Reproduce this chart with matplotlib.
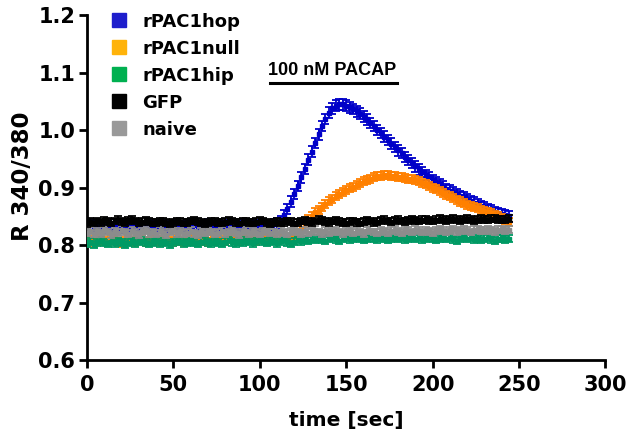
import numpy as np
import matplotlib
matplotlib.use("Agg")
import matplotlib.pyplot as plt

plt.rcParams['font.family'] = ['DejaVu Sans']
plt.rcParams['font.weight'] = 'bold'

# time axis: one frame every 2 s
time = np.arange(0, 246, 2)

# rPAC1hop: baseline (0-110 s) then response (112-244 s)
hop_base = [0.832, 0.835, 0.831, 0.834, 0.833, 0.830, 0.834, 0.836, 0.832, 0.833,
            0.835, 0.831, 0.833, 0.836, 0.834, 0.832, 0.830, 0.833, 0.835, 0.832,
            0.834, 0.831, 0.833, 0.835, 0.832, 0.834, 0.836, 0.833, 0.831, 0.834,
            0.832, 0.835, 0.833, 0.831, 0.834, 0.836, 0.833, 0.832, 0.835, 0.833,
            0.831, 0.834, 0.832, 0.835, 0.833, 0.836, 0.834, 0.832, 0.835, 0.833,
            0.834, 0.836, 0.833, 0.835, 0.836, 0.838]
hop_resp = [0.842, 0.852, 0.863, 0.876, 0.889, 0.903, 0.918, 0.933, 0.949, 0.963,
            0.978, 0.993, 1.007, 1.020, 1.031, 1.038, 1.043, 1.045, 1.045, 1.043,
            1.040, 1.037, 1.033, 1.029, 1.024, 1.019, 1.013, 1.007, 1.001, 0.995,
            0.989, 0.983, 0.977, 0.971, 0.965, 0.960, 0.954, 0.948, 0.943, 0.937,
            0.932, 0.927, 0.922, 0.918, 0.914, 0.910, 0.906, 0.902, 0.898, 0.895,
            0.892, 0.889, 0.886, 0.883, 0.880, 0.877, 0.874, 0.871, 0.868, 0.866,
            0.863, 0.861, 0.858, 0.856, 0.854, 0.852, 0.850]

# rPAC1null: baseline (0-118 s) then response (120-244 s)
null_base = [0.806, 0.809, 0.804, 0.808, 0.811, 0.807, 0.805, 0.809, 0.812, 0.806,
             0.804, 0.808, 0.810, 0.807, 0.805, 0.809, 0.811, 0.806, 0.808, 0.810,
             0.807, 0.805, 0.809, 0.811, 0.808, 0.806, 0.810, 0.808, 0.805, 0.809,
             0.811, 0.807, 0.809, 0.812, 0.808, 0.806, 0.810, 0.808, 0.811, 0.809,
             0.807, 0.810, 0.812, 0.809, 0.807, 0.811, 0.809, 0.812, 0.810, 0.808,
             0.811, 0.813, 0.810, 0.812, 0.814, 0.811, 0.813, 0.812, 0.814, 0.813]
null_resp = [0.815, 0.822, 0.830, 0.838, 0.845, 0.851, 0.857, 0.862, 0.867, 0.872,
             0.877, 0.881, 0.885, 0.889, 0.892, 0.896, 0.899, 0.902, 0.905, 0.908,
             0.911, 0.913, 0.916, 0.918, 0.920, 0.921, 0.922, 0.922, 0.921, 0.920,
             0.919, 0.918, 0.917, 0.916, 0.915, 0.913, 0.911, 0.909, 0.906, 0.903,
             0.900, 0.897, 0.894, 0.891, 0.888, 0.885, 0.882, 0.879, 0.876, 0.873,
             0.870, 0.868, 0.866, 0.864, 0.862, 0.860, 0.858, 0.856, 0.853, 0.850,
             0.847, 0.844, 0.841]

hip = [0.803, 0.806, 0.801, 0.805, 0.808, 0.804, 0.802, 0.806, 0.803, 0.807,
       0.805, 0.801, 0.804, 0.807, 0.803, 0.806, 0.808, 0.804, 0.802, 0.805,
       0.807, 0.803, 0.806, 0.804, 0.801, 0.805, 0.808, 0.806, 0.803, 0.805,
       0.807, 0.804, 0.802, 0.806, 0.808, 0.805, 0.803, 0.807, 0.805, 0.802,
       0.806, 0.809, 0.805, 0.803, 0.807, 0.805, 0.808, 0.806, 0.803, 0.807,
       0.809, 0.806, 0.804, 0.808, 0.806, 0.803, 0.807, 0.809, 0.805, 0.802,
       0.806, 0.809, 0.807, 0.810, 0.808, 0.811, 0.809, 0.812, 0.810, 0.808,
       0.811, 0.813, 0.810, 0.808, 0.811, 0.813, 0.810, 0.812, 0.814, 0.811,
       0.809, 0.812, 0.814, 0.811, 0.810, 0.813, 0.811, 0.809, 0.812, 0.814,
       0.811, 0.813, 0.810, 0.812, 0.814, 0.811, 0.813, 0.810, 0.812, 0.814,
       0.811, 0.809, 0.812, 0.814, 0.811, 0.813, 0.810, 0.808, 0.812, 0.814,
       0.811, 0.813, 0.810, 0.812, 0.809, 0.811, 0.813, 0.810, 0.808, 0.811,
       0.812, 0.810, 0.811]

gfp = [0.838, 0.841, 0.839, 0.842, 0.840, 0.843, 0.841, 0.839, 0.842, 0.844,
       0.841, 0.840, 0.843, 0.845, 0.842, 0.840, 0.841, 0.843, 0.841, 0.839,
       0.840, 0.842, 0.841, 0.839, 0.838, 0.840, 0.842, 0.841, 0.839, 0.840,
       0.842, 0.843, 0.841, 0.840, 0.838, 0.840, 0.842, 0.841, 0.840, 0.839,
       0.841, 0.843, 0.842, 0.840, 0.839, 0.841, 0.842, 0.840, 0.839, 0.841,
       0.843, 0.842, 0.840, 0.838, 0.840, 0.841, 0.839, 0.840, 0.842, 0.841,
       0.839, 0.840, 0.842, 0.843, 0.841, 0.840, 0.842, 0.844, 0.843, 0.841,
       0.840, 0.842, 0.843, 0.841, 0.840, 0.839, 0.841, 0.842, 0.840, 0.839,
       0.841, 0.843, 0.842, 0.840, 0.841, 0.843, 0.844, 0.842, 0.841, 0.843,
       0.844, 0.842, 0.841, 0.843, 0.845, 0.843, 0.842, 0.844, 0.845, 0.843,
       0.842, 0.844, 0.846, 0.844, 0.843, 0.845, 0.846, 0.844, 0.843, 0.845,
       0.846, 0.845, 0.843, 0.844, 0.846, 0.845, 0.844, 0.846, 0.847, 0.845,
       0.844, 0.845, 0.846]

naive = [0.822, 0.825, 0.820, 0.824, 0.821, 0.826, 0.823, 0.819, 0.824, 0.822,
         0.827, 0.823, 0.820, 0.825, 0.822, 0.819, 0.824, 0.826, 0.821, 0.823,
         0.820, 0.825, 0.822, 0.818, 0.823, 0.826, 0.821, 0.824, 0.820, 0.822,
         0.825, 0.821, 0.819, 0.824, 0.822, 0.826, 0.823, 0.820, 0.822, 0.825,
         0.821, 0.823, 0.826, 0.822, 0.819, 0.823, 0.825, 0.821, 0.824, 0.822,
         0.820, 0.824, 0.826, 0.822, 0.823, 0.821, 0.825, 0.822, 0.820, 0.824,
         0.826, 0.823, 0.821, 0.825, 0.822, 0.824, 0.827, 0.823, 0.821, 0.825,
         0.822, 0.824, 0.826, 0.823, 0.821, 0.824, 0.826, 0.822, 0.825, 0.823,
         0.821, 0.825, 0.827, 0.823, 0.822, 0.826, 0.824, 0.822, 0.825, 0.827,
         0.824, 0.822, 0.826, 0.825, 0.823, 0.827, 0.825, 0.823, 0.826, 0.824,
         0.822, 0.826, 0.828, 0.825, 0.823, 0.826, 0.828, 0.824, 0.826, 0.827,
         0.825, 0.823, 0.827, 0.828, 0.825, 0.826, 0.828, 0.826, 0.824, 0.827,
         0.828, 0.826, 0.827]

hop = hop_base + hop_resp
null = null_base + null_resp

# approximate SEM per group
sem = {'rPAC1hop': 0.009, 'rPAC1null': 0.007, 'rPAC1hip': 0.006,
       'GFP': 0.006, 'naive': 0.006}

labels = ['rPAC1hop', 'rPAC1null', 'rPAC1hip', 'GFP', 'naive']
series = [hop, null, hip, gfp, naive]
data_colors = ['#0000C8', '#FF8000', '#009A64', '#000000', '#8C8C8C']
legend_colors = ['#1E1ECC', '#FFB30A', '#00B050', '#000000', '#999999']
zorders = [2, 3, 4, 6, 5]  # GFP drawn above naive

fig = plt.figure(figsize=(6.29, 4.41), dpi=100)
ax = fig.add_axes([0.1383, 0.1837, 0.8243, 0.7812])

for lab, y, c, z in zip(labels, series, data_colors, zorders):
    ax.errorbar(time, y, yerr=sem[lab], fmt='s', color=c, ms=3,
                elinewidth=1.3, capsize=2.8, capthick=1.3, zorder=z)

ax.set_xlim(0, 300)
ax.set_ylim(0.6, 1.2)
ax.set_xticks(np.arange(0, 301, 50))
ax.set_yticks(np.arange(0.6, 1.21, 0.1))
ax.set_yticklabels(['%.1f' % v for v in np.arange(0.6, 1.21, 0.1)])

for s in ['top', 'right']:
    ax.spines[s].set_visible(False)
for s in ['left', 'bottom']:
    ax.spines[s].set_linewidth(2)
ax.tick_params(direction='out', length=5.5, width=2, labelsize=15)
ax.tick_params(axis='x', pad=5)
ax.tick_params(axis='y', pad=3)
for lbl in ax.get_xticklabels() + ax.get_yticklabels():
    lbl.set_fontweight('bold')

ax.set_xlabel('time [sec]', fontsize=14.5, fontweight='bold', labelpad=12)
ax.set_ylabel('R 340/380', fontsize=16.5, fontweight='bold')
ax.yaxis.set_label_coords(-0.102, 0.532)

# PACAP application bar
ax.plot([106, 179.5], [1.082, 1.082], color='black', lw=2.2, clip_on=False)
ax.text(142, 1.097, '100 nM PACAP', ha='center', va='baseline',
        fontsize=13, fontweight='bold', family='Liberation Sans')

# legend drawn by hand: square + label, 27 px apart
for i, (lab, c) in enumerate(zip(labels, legend_colors)):
    yf = 1 - (20 + 27 * i) / 441
    ax.plot([118.5 / 629], [yf], marker='s', ms=9.5, color=c, ls='none',
            transform=fig.transFigure, clip_on=False)
    fig.text(142 / 629, yf, lab, ha='left', va='center_baseline',
             fontsize=13, fontweight='bold')

fig.savefig('out.png', dpi=100)
